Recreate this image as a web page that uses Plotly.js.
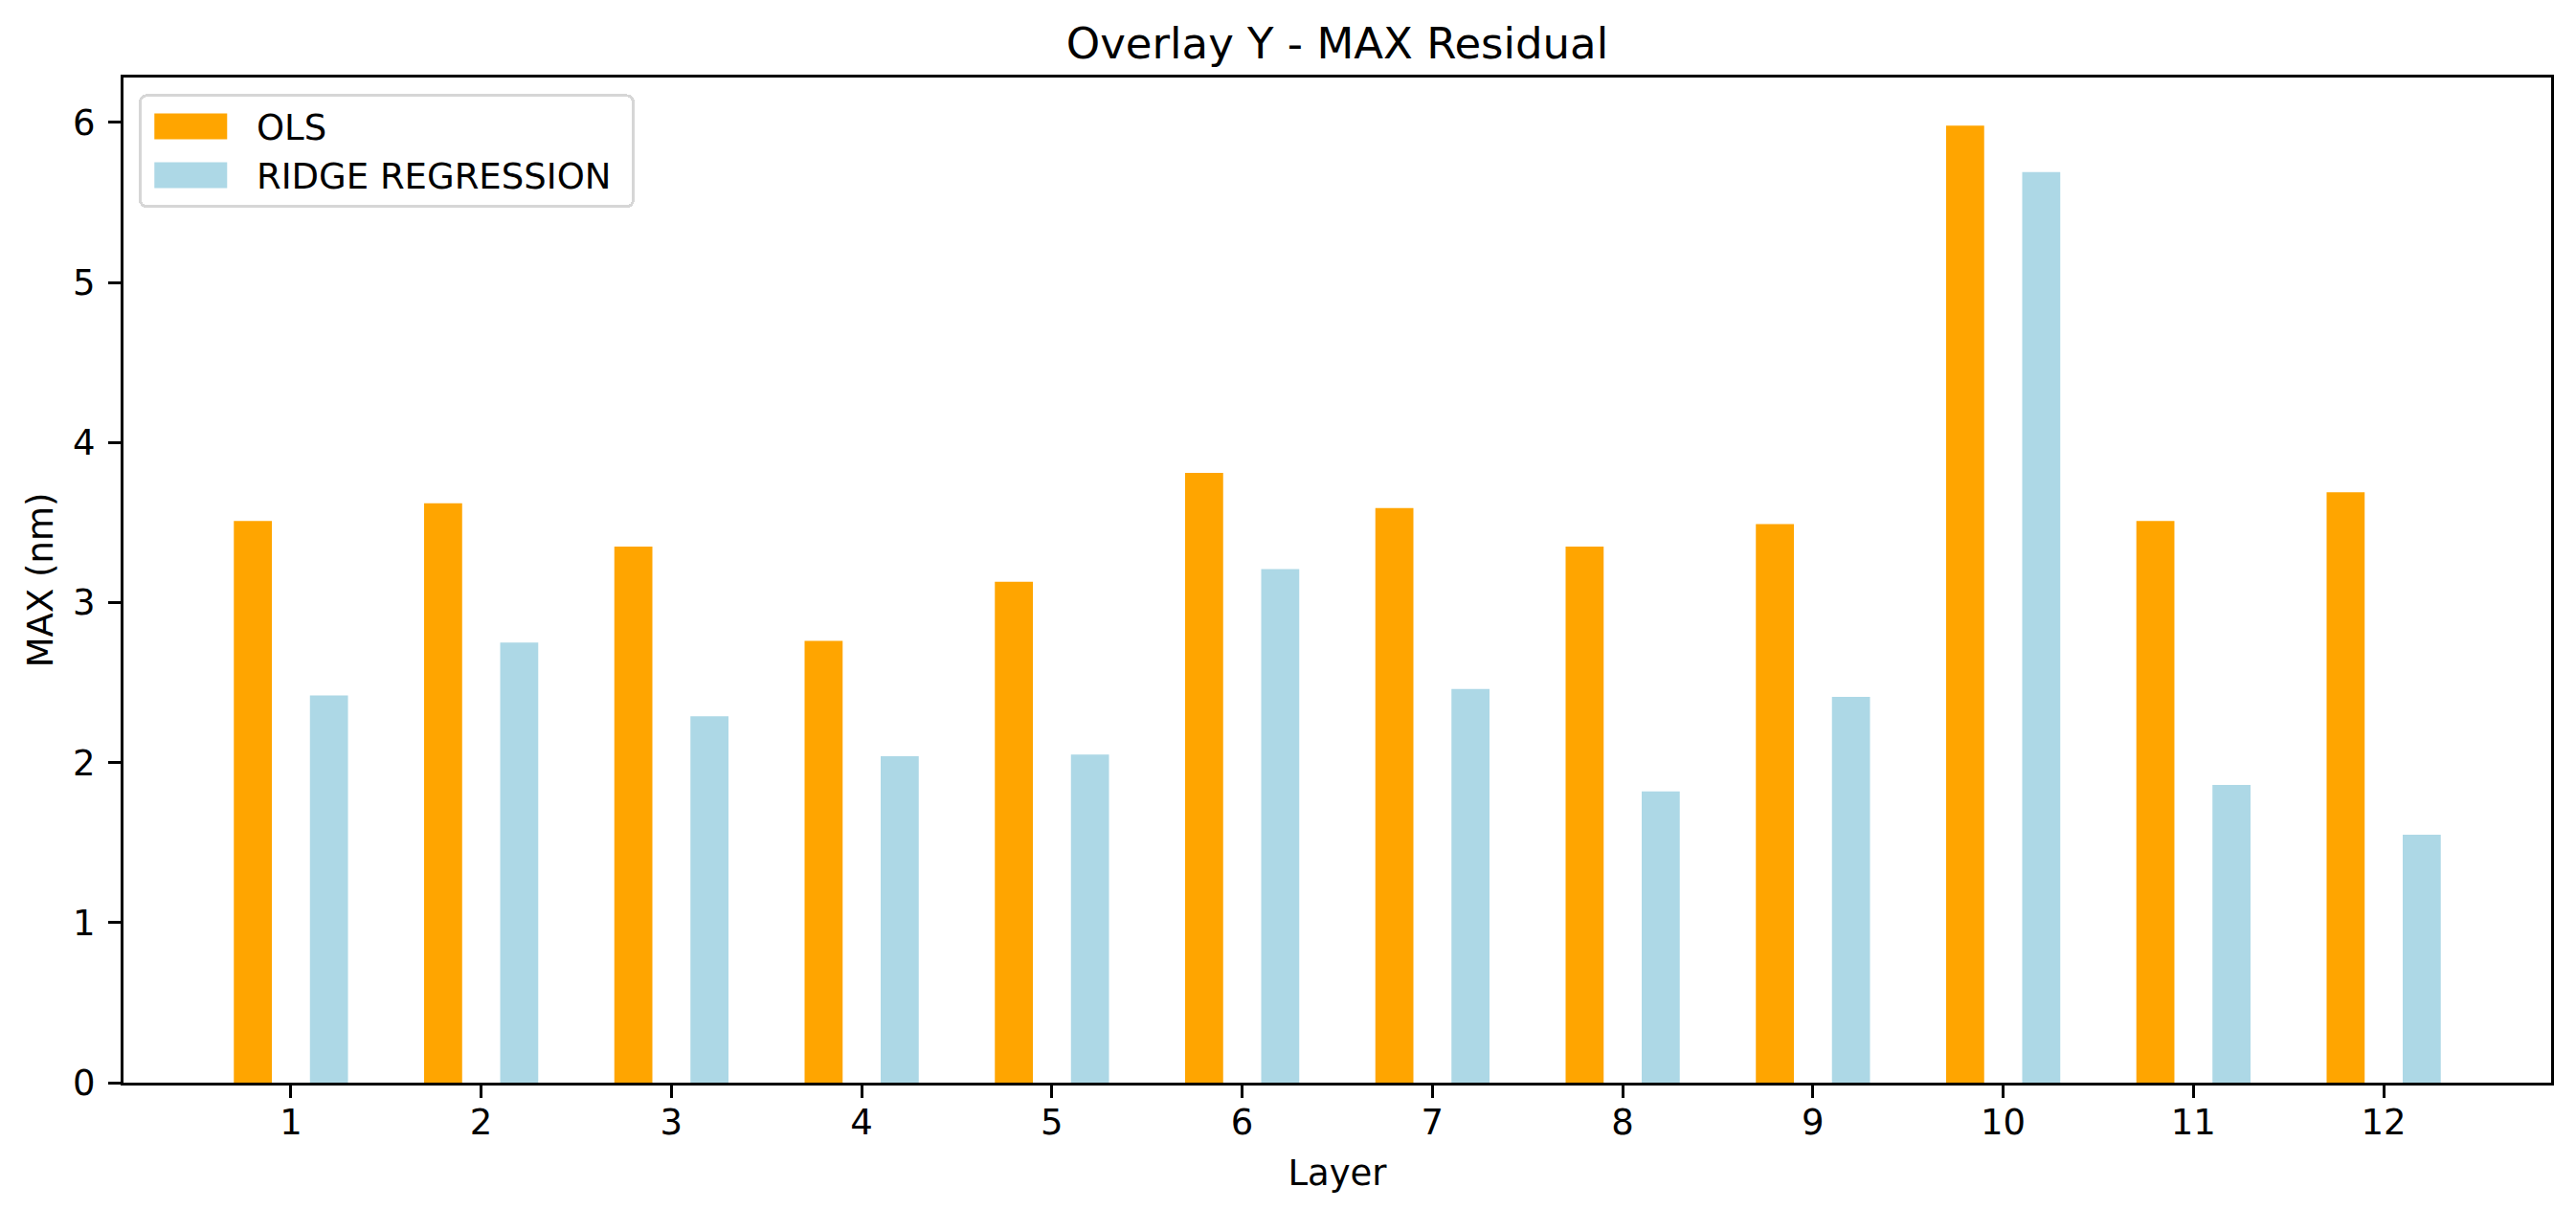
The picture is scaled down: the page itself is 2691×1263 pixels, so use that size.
<!DOCTYPE html>
<html>
<head>
<meta charset="utf-8">
<script src="https://cdn.plot.ly/plotly-3.0.1.min.js"></script>
<style>html,body{margin:0;padding:0;background:#fff;}</style>
</head>
<body>
<div id="chart" style="width:2691px;height:1263px;"></div>
<script>
const layers = [1, 2, 3, 4, 5, 6, 7, 8, 9, 10, 11, 12];
const tickLabels = ['1', '2', '3', '4', '5', '6', '7', '8', '9', '10', '11', '12'];
const olsValues = [3.51, 3.62, 3.35, 2.76, 3.13, 3.81, 3.59, 3.35, 3.49, 5.98, 3.51, 3.69];
const ridgeValues = [2.42, 2.75, 2.29, 2.04, 2.05, 3.21, 2.46, 1.82, 2.41, 5.69, 1.86, 1.55];
const seriesNames = ['OLS', 'RIDGE REGRESSION'];
const yTicks = [0, 1, 2, 3, 4, 5, 6];

const FONT = 'DejaVu Sans, Liberation Sans, sans-serif';

const traces = [
  {
    type: 'bar', name: seriesNames[0], x: layers, y: olsValues,
    width: 0.2, offset: -0.3,
    marker: {color: '#FFA500', line: {width: 0}},
    legendgroup: 'a', hoverinfo: 'x+y'
  },
  {
    type: 'bar', name: seriesNames[1], x: layers, y: ridgeValues,
    width: 0.2, offset: 0.1,
    marker: {color: '#ADD8E6', line: {width: 0}},
    legendgroup: 'b', hoverinfo: 'x+y'
  }
];

const axisCommon = {
  showline: true, linecolor: '#000', linewidth: 3, mirror: true,
  ticks: 'outside', ticklen: 13, tickwidth: 3, tickcolor: '#000',
  showgrid: false, zeroline: false,
  tickfont: {family: FONT, size: 37, color: '#000'}
};

const layout = {
  width: 2691, height: 1263,
  paper_bgcolor: '#fff', plot_bgcolor: '#fff',
  margin: {l: 129, r: 26, t: 81, b: 132, pad: 0},
  font: {family: FONT, size: 37, color: '#000'},
  barmode: 'overlay',
  title: {
    text: 'Overlay Y - MAX Residual',
    font: {family: FONT, size: 45, color: '#000'},
    x: 0.5, xref: 'paper', xanchor: 'center',
    y: 1 - 45 / 1263, yref: 'container', yanchor: 'middle'
  },
  xaxis: Object.assign({}, axisCommon, {
    range: [0.12, 12.88],
    tickmode: 'array', tickvals: layers, ticktext: tickLabels,
    ticklabelstandoff: -6,
    title: {text: 'Layer', font: {family: FONT, size: 37, color: '#000'}, standoff: 19}
  }),
  yaxis: Object.assign({}, axisCommon, {
    range: [0, 6.281],
    tickmode: 'array', tickvals: yTicks, ticktext: yTicks.map(String),
    ticklabelstandoff: 6,
    title: {text: 'MAX (nm)', font: {family: FONT, size: 37, color: '#000'}, standoff: 10}
  }),
  showlegend: true,
  legend: {
    x: 0.0063, y: 0.9835, xanchor: 'left', yanchor: 'top',
    bgcolor: 'rgba(255,255,255,0.8)', bordercolor: '#d6d6d6', borderwidth: 3,
    font: {family: FONT, size: 37, color: '#000'},
    itemwidth: 110, tracegroupgap: 13, traceorder: 'normal'
  }
};

Plotly.newPlot('chart', traces, layout, {displayModeBar: false, staticPlot: true}).then(function (gd) {
  const bg = gd.querySelector('.legend .bg');
  if (!bg) return;
  // rounded frame and extra right padding like the reference legend
  const bgRect0 = bg.getBoundingClientRect();
  const w = parseFloat(bg.getAttribute('width')) || bgRect0.width;
  bg.setAttribute('width', w + (661.5 - bgRect0.right));
  bg.setAttribute('rx', 7);
  bg.setAttribute('ry', 7);
  const bgRect = bg.getBoundingClientRect();
  // widen the swatches into rectangles
  const paths = gd.querySelectorAll('.legend .legendpoints path');
  paths.forEach(function (p) {
    const r = p.getBoundingClientRect();
    const cx = (r.left + r.right) / 2;
    const dx = (bgRect.left + 52.8) - cx;
    p.setAttribute('d', 'M' + (dx - 38) + ',-13.5h76v27h' + (-76) + 'Z');
  });
});
</script>
</body>
</html>
